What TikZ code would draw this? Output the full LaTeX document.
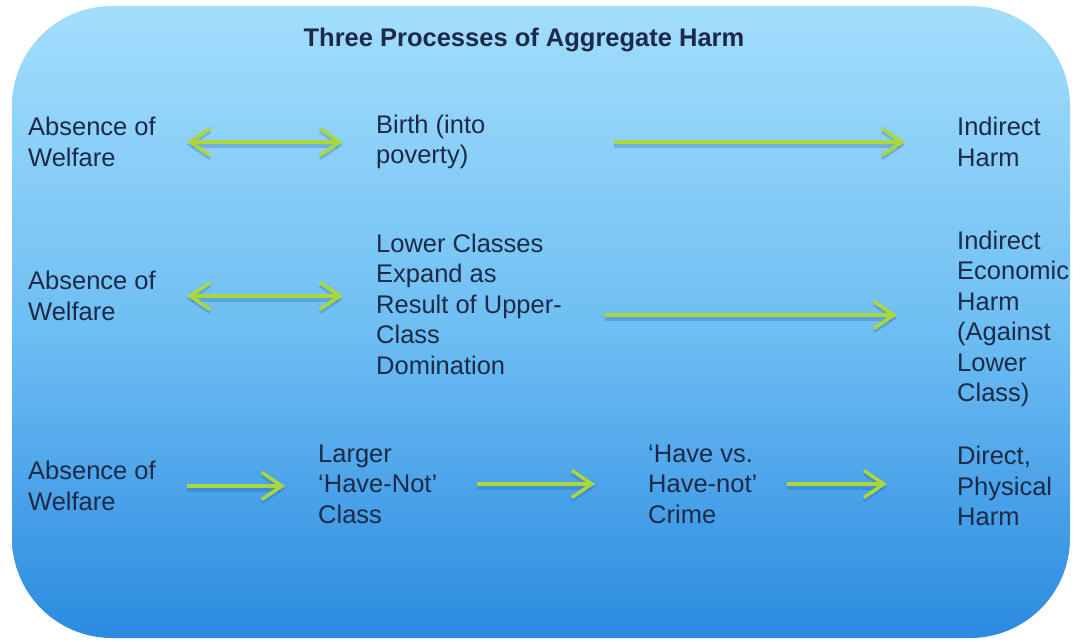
\documentclass[tikz,border=0pt]{standalone}
\usepackage{fontspec}
\setmainfont{Liberation Sans}
\usetikzlibrary{arrows.meta}
\definecolor{skytop}{HTML}{A3DEFC}
\definecolor{skymid}{HTML}{6FBFF3}
\definecolor{skybot}{HTML}{2B8BE0}
\definecolor{inktext}{HTML}{1C2A48}
\definecolor{limearrow}{HTML}{AAD83C}
\definecolor{arrowshade}{HTML}{1E4E9A}
\tikzset{
  lbl/.style={anchor=west, align=left, inner sep=0pt, text=inktext,
    font={\fontsize{25.5}{30.5}\selectfont}},
  ttl/.style={inner sep=0pt, text=inktext, font={\fontsize{25.5}{30}\selectfont\bfseries}},
  limebarb/.tip={Straight Barb[length=20pt, width=27pt, line width=3.5pt]},
  onearrow/.style={draw=limearrow, line width=3.5pt, -limebarb,
    preaction={draw=arrowshade, opacity=.25, line width=5pt, transform canvas={yshift=-3pt}}},
  dblarrow/.style={onearrow, limebarb-limebarb}}

\begin{document}
\begin{tikzpicture}[x=1pt, y=-1pt]
\useasboundingbox (0,0) rectangle (1080,642);
\shade [top color=skytop, bottom color=skybot, middle color=skymid, rounded corners=100pt]
  (12,6) rectangle (1070,638);
\node[ttl] (title) at (524,40) {Three Processes of Aggregate Harm};
\node[lbl] (w1) at (28,142) {Absence of\\Welfare};
\node[lbl] (birth) at (376,142) {Birth (into\\poverty)};
\node[lbl] (ih) at (957,142) {Indirect\\Harm};
\node[lbl] (w2) at (28,296) {Absence of\\Welfare};
\node[lbl] (lower) at (376,304) {Lower Classes\\Expand as\\Result of Upper-\\Class\\Domination};
\node[lbl] (ieh) at (957,319) {Indirect\\Economic\\Harm\\(Against\\Lower\\Class)};
\node[lbl] (w3) at (28,486) {Absence of\\Welfare};
\node[lbl] (larger) at (318,484) {Larger\\`Have-Not'\\Class};
\node[lbl] (havevs) at (648,484) {`Have vs.\\Have-not'\\Crime};
\node[lbl] (dph) at (957,486) {Direct,\\Physical\\Harm};
\coordinate (iehin) at ([yshift=4pt]ieh.west);
\draw[dblarrow, shorten <=159pt, shorten >=33pt] (w1.west) -- (birth.west);
\draw[onearrow, shorten <=238pt, shorten >=52pt] (birth.west) -- (ih.west);
\draw[dblarrow, shorten <=159pt, shorten >=33pt] (w2.west) -- (w2.west -| lower.west);
\draw[onearrow, shorten <=229pt, shorten >=60pt] (lower.west |- iehin) -- (iehin);
\draw[onearrow, shorten <=159pt, shorten >=33pt] (w3.west) -- (w3.west -| larger.west);
\draw[onearrow, shorten <=159pt, shorten >=53pt] (larger.west) -- (havevs.west);
\draw[onearrow, shorten <=139pt, shorten >=70pt] (havevs.west) -- (havevs.west -| dph.west);
\end{tikzpicture}
\end{document}
